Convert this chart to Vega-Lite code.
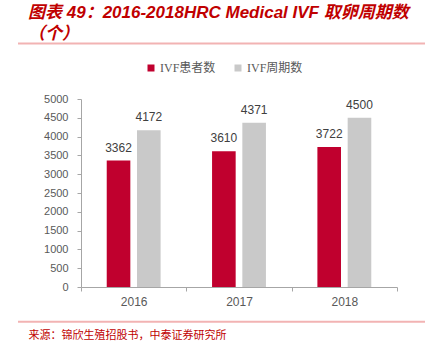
{
  "$schema": "https://vega.github.io/schema/vega-lite/v6.json",
  "autosize": "none",
  "width": 316,
  "height": 188,
  "padding": {"left": 81, "top": 99, "right": 33, "bottom": 68},
  "background": "white",
  "title": {
    "text": ["图表 49：2016-2018HRC  Medical  IVF  取卵周期数", "（个）"],
    "anchor": "start",
    "frame": "group",
    "dx": -53,
    "offset": 0,
    "font": "Liberation Sans, Noto Sans CJK SC",
    "fontSize": 17,
    "fontStyle": "italic",
    "fontWeight": "bold",
    "color": "#c00000",
    "lineHeight": 21
  },
  "data": {
    "values": [
      {"year": "2016", "series": "IVF患者数", "value": 3362},
      {"year": "2016", "series": "IVF周期数", "value": 4172},
      {"year": "2017", "series": "IVF患者数", "value": 3610},
      {"year": "2017", "series": "IVF周期数", "value": 4371},
      {"year": "2018", "series": "IVF患者数", "value": 3722},
      {"year": "2018", "series": "IVF周期数", "value": 4500}
    ]
  },
  "config": {
    "view": {"stroke": null},
    "axis": {"grid": false},
    "axisY": {
      "values": [0, 500, 1000, 1500, 2000, 2500, 3000, 3500, 4000, 4500, 5000],
      "format": "d",
      "labelOverlap": false,
      "labelFont": "Liberation Sans",
      "labelFontSize": 11,
      "labelColor": "#595959",
      "labelPadding": 9,
      "tickSize": 4,
      "tickColor": "#a6a6a6",
      "domainColor": "#a6a6a6"
    }
  },
  "layer": [
    {
      "mark": {"type": "bar"},
      "encoding": {
        "x": {
          "field": "year",
          "type": "nominal",
          "scale": {"paddingInner": 0, "paddingOuter": 0},
          "axis": {
            "labelAngle": 0,
            "labelFont": "Liberation Sans",
            "labelFontSize": 12,
            "labelColor": "#595959",
            "labelPadding": 5,
            "tickBand": "extent",
            "tickSize": 4,
            "tickColor": "#a6a6a6",
            "domainColor": "#a6a6a6",
            "title": "来源：锦欣生殖招股书，中泰证券研究所",
            "titleAnchor": "start",
            "titleAlign": "left",
            "titleX": -53,
            "titleY": 48,
            "titleBaseline": "middle",
            "titleFont": "Noto Sans CJK SC",
            "titleFontSize": 11,
            "titleFontWeight": "normal",
            "titleColor": "#c00000"
          }
        },
        "xOffset": {
          "field": "series",
          "type": "nominal",
          "sort": ["IVF患者数", "IVF周期数"],
          "scale": {"paddingInner": 0.22, "paddingOuter": 0.85}
        },
        "y": {
          "field": "value",
          "type": "quantitative",
          "scale": {"domain": [0, 5000], "nice": false},
          "axis": {
            "title": null,
            "values": [0, 500, 1000, 1500, 2000, 2500, 3000, 3500, 4000, 4500, 5000],
            "labelOverlap": false
          }
        },
        "color": {
          "field": "series",
          "type": "nominal",
          "sort": ["IVF患者数", "IVF周期数"],
          "scale": {"range": ["#c0002e", "#c9c9c9"]},
          "legend": {
            "title": null,
            "orient": "none",
            "direction": "horizontal",
            "legendX": 64,
            "legendY": -37,
            "symbolType": "square",
            "symbolSize": 49,
            "symbolStrokeWidth": 0,
            "labelFont": "Liberation Serif, Noto Sans CJK SC",
            "labelFontSize": 12,
            "labelColor": "#595959",
            "labelOffset": 3,
            "columnPadding": 16
          }
        }
      }
    },
    {
      "mark": {"type": "text", "baseline": "bottom", "dy": -6, "font": "Liberation Sans", "fontSize": 12, "color": "#404040"},
      "encoding": {
        "x": {"field": "year", "type": "nominal"},
        "xOffset": {"field": "series", "type": "nominal", "sort": ["IVF患者数", "IVF周期数"]},
        "y": {
          "field": "value",
          "type": "quantitative",
          "axis": {
            "title": null,
            "values": [0, 500, 1000, 1500, 2000, 2500, 3000, 3500, 4000, 4500, 5000],
            "labelOverlap": false
          }
        },
        "text": {"field": "value", "type": "quantitative", "format": "d"}
      }
    },
    {
      "data": {"values": [{"line": "top"}]},
      "mark": {"type": "rule", "color": "#f2b3b3", "strokeWidth": 2, "clip": false},
      "encoding": {
        "x": {"value": -63},
        "x2": {"value": 344},
        "y": {"value": -55.5}
      }
    },
    {
      "data": {"values": [{"line": "bottom"}]},
      "mark": {"type": "rule", "color": "#f2b3b3", "strokeWidth": 2, "clip": false},
      "encoding": {
        "x": {"value": -63},
        "x2": {"value": 344},
        "y": {"value": 222.7}
      }
    }
  ]
}
